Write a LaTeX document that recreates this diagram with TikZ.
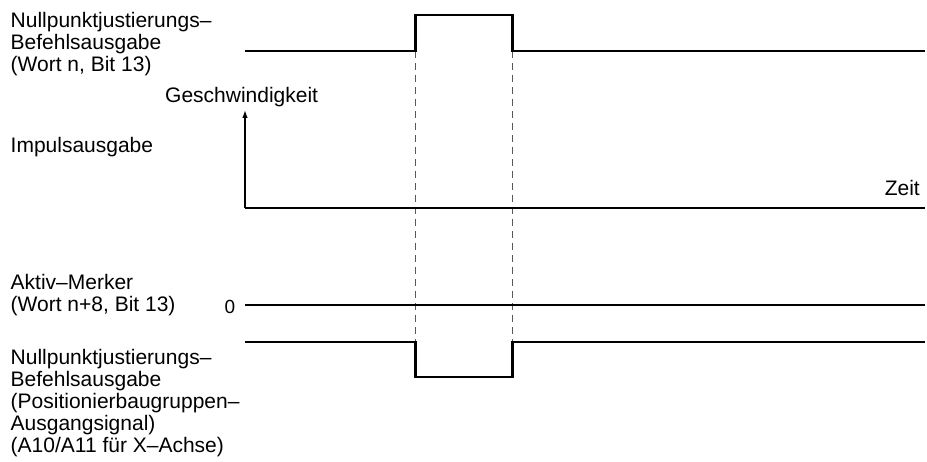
\documentclass[tikz,border=0pt]{standalone}
\usepackage{fontspec}
\setmainfont{Liberation Sans}
\usetikzlibrary{arrows.meta}
\begin{document}
\begin{tikzpicture}[x=1pt,y=-1pt,
  lbl/.style={anchor=base west,inner sep=0pt,font=\fontsize{21}{22}\selectfont},
  sig/.style={line width=2.8pt,line join=miter,line cap=butt},
  axisline/.style={line width=1.4pt},
  guide/.style={line width=1pt,draw=black!65,dash pattern=on 7pt off 5pt}]
\useasboundingbox[fill=white] (0,0) rectangle (927,462);
% left labels, top group
\node[lbl] (t1) at (10.5,28) {Nullpunktjustierungs–};
\node[lbl] (t2) at (10.5,50) {Befehlsausgabe};
\node[lbl] (t3) at (10.5,72) {(Wort n, Bit 13)};
\node[lbl] (geschw) at (165,103) {Geschwindigkeit};
\node[lbl] (impuls) at (10.5,153) {Impulsausgabe};
\node[lbl,anchor=base east] (zeit) at (920,196) {Zeit};
% lower group
\node[lbl] (a1) at (10.5,290) {Aktiv–Merker};
\node[lbl] (a2) at (10.5,312) {(Wort n+8, Bit 13)};
\node[anchor=base west,inner sep=0pt,font=\fontsize{19}{20}\selectfont] (zero) at (224.5,314) {0};
\node[lbl] (b1) at (10.5,365) {Nullpunktjustierungs–};
\node[lbl] (b2) at (10.5,387) {Befehlsausgabe};
\node[lbl] (b3) at (10.5,409) {(Positionierbaugruppen–};
\node[lbl] (b4) at (10.5,431) {Ausgangsignal)};
\node[lbl] (b5) at (10.5,453) {(A10/A11 für X–Achse)};
% guides
\draw[guide] (415.5,51) -- (415.5,342);
\draw[guide] (512.5,51) -- (512.5,342);
% top signal
\draw[sig] (245,51) -- (415.5,51) -- (415.5,15) -- (512.5,15) -- (512.5,51) -- (925,51);
% velocity axes
\draw[axisline,-{Latex[length=8pt,width=5.5pt]}] (245,208) -- (245,110);
\draw[axisline] (245,208) -- (925,208);
% active marker
\draw[sig] (245,305) -- (925,305);
% lower signal
\draw[sig] (245,342) -- (415.5,342) -- (415.5,377) -- (512.5,377) -- (512.5,342) -- (925,342);
\end{tikzpicture}
\end{document}
